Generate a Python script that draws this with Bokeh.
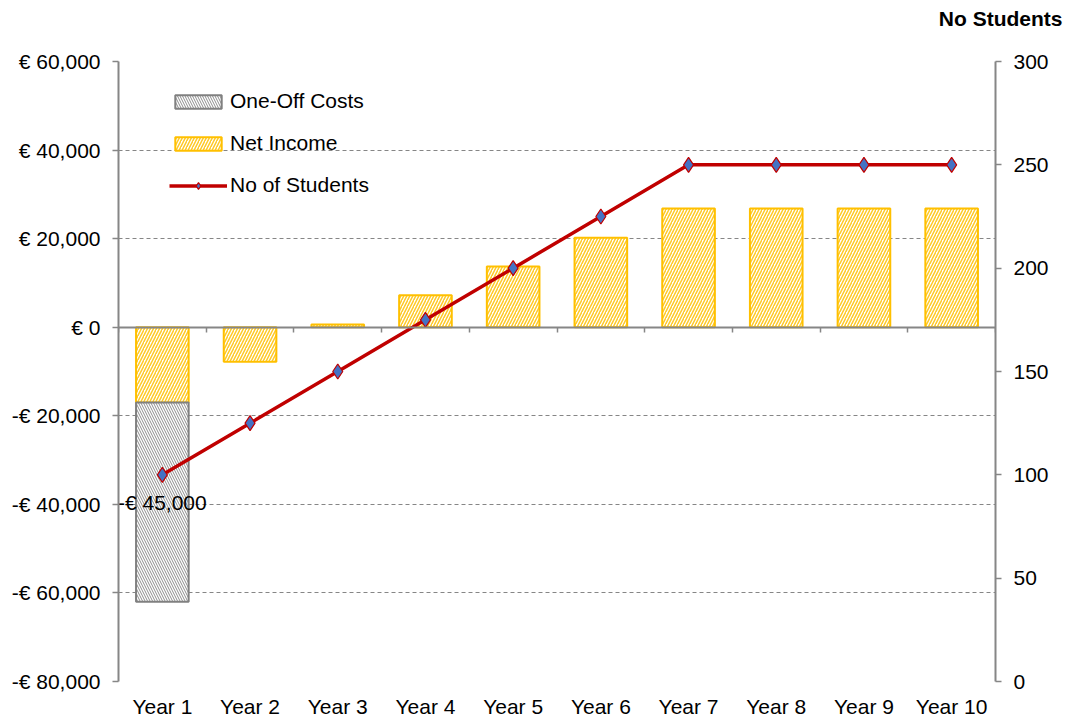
import numpy as np
from bokeh.plotting import figure
from bokeh.models import (Range1d, LinearAxis, FixedTicker, ColumnDataSource, Title, Legend)
from bokeh.core.properties import value
from bokeh.embed import file_html
from bokeh.resources import INLINE

categories = ["Year 1", "Year 2", "Year 3", "Year 4", "Year 5",
              "Year 6", "Year 7", "Year 8", "Year 9", "Year 10"]
net_income = [-17000, -7800, 600, 7200, 13700, 20200, 26800, 26800, 26800, 26800]
one_off_costs = [-45000, 0, 0, 0, 0, 0, 0, 0, 0, 0]
students = [100, 125, 150, 175, 200, 225, 250, 250, 250, 250]

y_ticks = [-80000, -60000, -40000, -20000, 0, 20000, 40000, 60000]
y_tick_labels = ["-€ 80,000", "-€ 60,000", "-€ 40,000", "-€ 20,000", "€ 0",
                 "€ 20,000", "€ 40,000", "€ 60,000"]
student_ticks = [0, 50, 100, 150, 200, 250, 300]

FONT = "Liberation Sans"
FS = "21px"
AX = "#868686"

xpos = list(range(1, len(categories) + 1))

p = figure(width=1074, height=720, output_backend="svg", toolbar_location=None,
           x_range=Range1d(0.5, len(categories) + 0.5),
           y_range=Range1d(y_ticks[0], y_ticks[-1]),
           min_border_left=118, min_border_right=79, min_border_top=61,
           min_border_bottom=39)
p.outline_line_color = None
p.extra_y_ranges = {"students": Range1d(student_ticks[0], student_ticks[-1])}
p.xgrid.visible = False
p.ygrid.ticker = FixedTicker(ticks=y_ticks)
p.ygrid.grid_line_color = AX
p.ygrid.grid_line_dash = "4 3"
p.ygrid.grid_line_width = 1

# left axis
ya = p.yaxis[0]
ya.ticker = FixedTicker(ticks=y_ticks)
ya.major_label_overrides = {t: l for t, l in zip(y_ticks, y_tick_labels)}
ya.axis_line_color = AX
ya.axis_line_width = 2
ya.major_tick_line_color = AX
ya.major_tick_line_width = 1.5
ya.major_tick_in = 0
ya.major_tick_out = 6
ya.minor_tick_line_color = None
ya.major_label_standoff = 12
ya.major_label_text_font = FONT
ya.major_label_text_font_size = FS
ya.major_label_text_color = "black"

# right axis
ra = LinearAxis(y_range_name="students", ticker=FixedTicker(ticks=student_ticks))
ra.axis_line_color = AX
ra.axis_line_width = 2
ra.major_tick_line_color = AX
ra.major_tick_line_width = 1.5
ra.major_tick_in = 0
ra.major_tick_out = 6
ra.minor_tick_line_color = None
ra.major_label_standoff = 12
ra.major_label_text_font = FONT
ra.major_label_text_font_size = FS
ra.major_label_text_color = "black"
p.add_layout(ra, "right")

# bottom category labels
xa = p.xaxis[0]
xa.ticker = FixedTicker(ticks=xpos)
xa.major_label_overrides = {x: c for x, c in zip(xpos, categories)}
xa.axis_line_color = None
xa.major_tick_line_color = None
xa.minor_tick_line_color = None
xa.major_label_standoff = 7
xa.major_label_text_font = FONT
xa.major_label_text_font_size = FS
xa.major_label_text_color = "black"

# bars
net = np.array(net_income, dtype=float)
cost = np.array(one_off_costs, dtype=float)
net_src = ColumnDataSource(dict(x=xpos, top=net, bottom=np.zeros_like(net)))
rn = p.vbar(x="x", top="top", bottom="bottom", width=0.6, source=net_src,
            fill_color="white", line_color="#FFC000", line_width=2,
            hatch_pattern="/", hatch_color="#FFC000", hatch_scale=6,
            hatch_weight=1.5, hatch_alpha=0.85)

mask = cost != 0
cb = np.minimum(net, 0)
cost_src = ColumnDataSource(dict(x=np.array(xpos)[mask], top=cb[mask],
                                 bottom=(cb + cost)[mask],
                                 mid=(cb + cost / 2)[mask],
                                 lab=["-€ {:,.0f}".format(abs(c)) for c in cost[mask]]))
rc = p.vbar(x="x", top="top", bottom="bottom", width=0.6, source=cost_src,
            fill_color="white", line_color="#808080", line_width=2,
            hatch_pattern="\\", hatch_color="#808080", hatch_scale=5,
            hatch_weight=1, hatch_alpha=0.9)

# zero axis with category boundary ticks
za = LinearAxis(fixed_location=0,
                ticker=FixedTicker(ticks=[x - 0.5 for x in xpos] + [xpos[-1] + 0.5]))
za.axis_line_color = AX
za.axis_line_width = 2
za.major_tick_line_color = AX
za.major_tick_line_width = 1.5
za.major_tick_in = 0
za.major_tick_out = 5
za.minor_tick_line_color = None
za.major_label_text_alpha = 0
za.major_label_text_font_size = "1px"
za.major_label_standoff = 0
p.add_layout(za, "below")

# students line
st_src = ColumnDataSource(dict(x=xpos, y=students))
rl = p.line("x", "y", source=st_src, y_range_name="students",
            line_color="#C00000", line_width=3.5)
rs = p.scatter("x", "y", source=st_src, y_range_name="students", marker="diamond",
               size=15, fill_color="#4472C4", line_color="#C00000", line_width=1.2)

# data label
p.text(x="x", y="mid", text="lab", source=cost_src, text_align="center",
       text_baseline="middle", text_font=value(FONT), text_font_size=value(FS),
       text_color="black")

legend = Legend(items=[("One-Off Costs", [rc]), ("Net Income", [rn]),
                       ("No of Students", [rl, rs])],
                location=(51, 484))
legend.background_fill_alpha = 0
legend.border_line_color = None
legend.margin = 0
legend.padding = 0
legend.spacing = 18
legend.glyph_width = 58
legend.glyph_height = 17
legend.label_height = 20
legend.label_standoff = 3
legend.label_text_font = FONT
legend.label_text_font_size = FS
legend.label_text_color = "black"
p.add_layout(legend, "center")

# spacer (closest to frame), then right-axis title further out
p.add_layout(Title(text=" ", text_font_size="14px", standoff=7), "above")
p.add_layout(Title(text="No Students", align="right", offset=-67,
                   vertical_align="top", standoff=10,
                   text_font=FONT, text_font_size=FS, text_font_style="bold",
                   text_color="black"), "above")

open("out.html", "w").write(file_html(p, INLINE))
